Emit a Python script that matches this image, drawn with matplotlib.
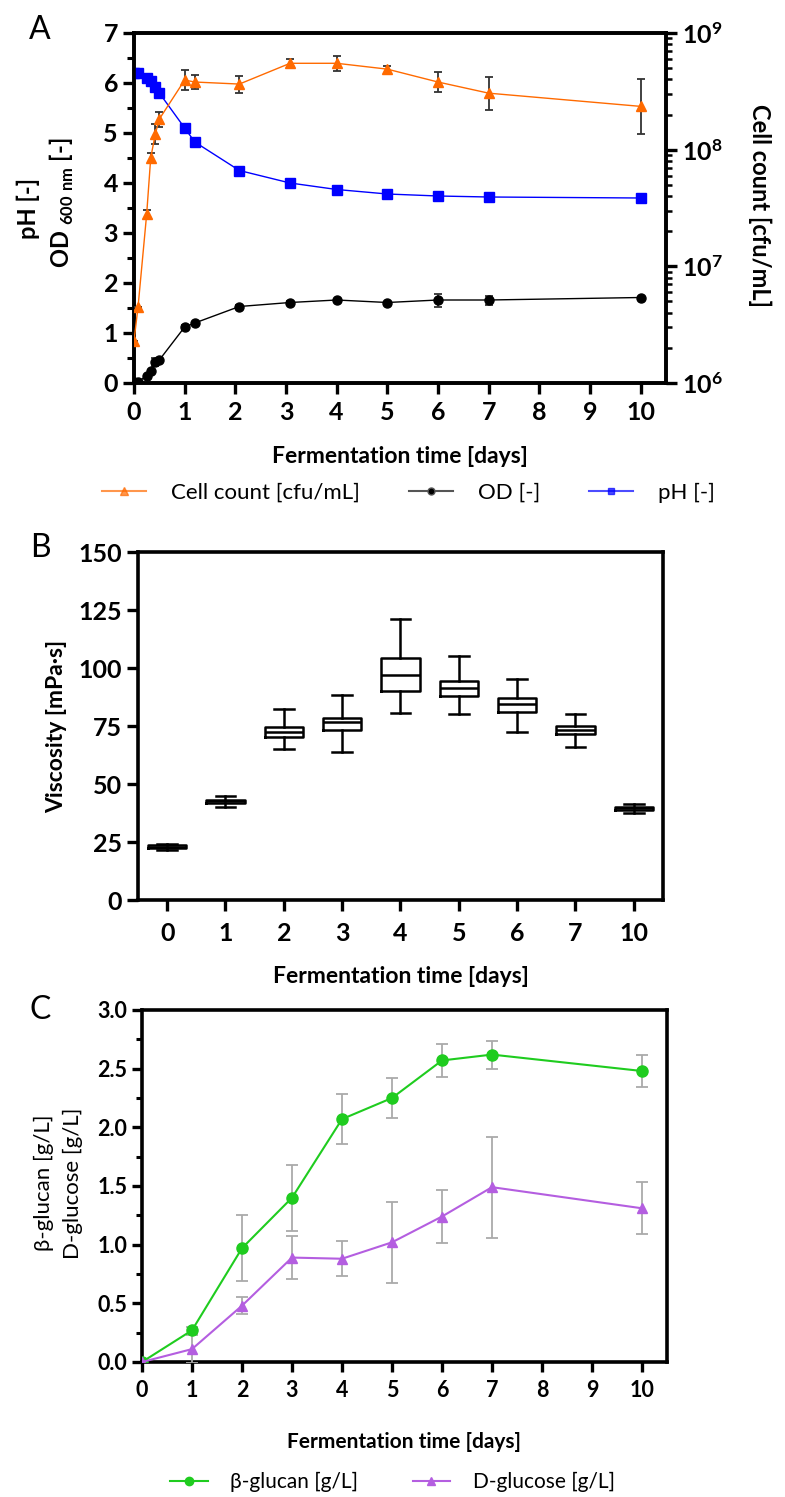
import numpy as np
import matplotlib
matplotlib.use("Agg")
import matplotlib.pyplot as plt
from matplotlib.lines import Line2D
from matplotlib.ticker import MultipleLocator, FuncFormatter, LogLocator, NullFormatter

plt.rcParams['font.family'] = ['Lato', 'DejaVu Sans']
plt.rcParams['mathtext.fontset'] = 'custom'
plt.rcParams['mathtext.rm'] = 'Lato'
plt.rcParams['mathtext.bf'] = 'Lato:bold'

# ---- panel A data ----
time_a = [0, 0.08, 0.25, 0.33, 0.42, 0.5, 1.0, 1.2, 2.08, 3.08, 4, 5, 6, 7, 10]
ph = [6.2, 6.2, 6.1, 6.04, 5.92, 5.8, 5.1, 4.82, 4.25, 4.0, 3.87, 3.78, 3.74, 3.72, 3.7]
od = [0.02, 0.03, 0.14, 0.24, 0.42, 0.46, 1.12, 1.2, 1.53, 1.61, 1.66, 1.61, 1.66, 1.66, 1.71]
od_err = [0, 0, 0.02, 0.03, 0.08, 0.04, 0.05, 0.03, 0.03, 0.03, 0.03, 0.02, 0.13, 0.09, 0.02]
cells = [2.3e6, 4.5e6, 2.8e7, 8.5e7, 1.36e8, 1.83e8, 3.95e8, 3.8e8, 3.65e8, 5.5e8, 5.5e8,
         4.9e8, 3.8e8, 3.05e8, 2.35e8]
cells_log_err = [0, 0, 0.034, 0.043, 0.086, 0.064, 0.086, 0.064, 0.073, 0.034, 0.064,
                 0.03, 0.086, 0.141, 0.236]

# ---- panel B data (viscosity boxes) ----
days_b = ['0', '1', '2', '3', '4', '5', '6', '7', '10']
visc_wlo = [21.6, 40.0, 65.1, 63.8, 80.6, 80.2, 72.4, 65.9, 37.5]
visc_q1 = [22.3, 41.8, 70.3, 73.3, 90.1, 87.9, 81.0, 71.5, 38.8]
visc_med = [23.0, 42.5, 72.4, 76.7, 97.0, 91.4, 84.5, 73.3, 39.6]
visc_q3 = [23.5, 43.3, 74.6, 78.4, 104.3, 94.4, 87.1, 75.0, 40.1]
visc_whi = [24.2, 44.8, 82.3, 88.4, 121.1, 105.2, 95.2, 80.2, 41.4]

# ---- panel C data ----
days_c = [0, 1, 2, 3, 4, 5, 6, 7, 10]
glucan = [0.0, 0.27, 0.97, 1.40, 2.07, 2.25, 2.57, 2.62, 2.48]
glucan_err = [0, 0.03, 0.28, 0.28, 0.21, 0.17, 0.14, 0.12, 0.14]
glucose = [0.0, 0.11, 0.48, 0.89, 0.88, 1.02, 1.24, 1.49, 1.31]
glucose_err = [0, 0.12, 0.07, 0.18, 0.15, 0.345, 0.23, 0.43, 0.22]

W, H = 785, 1497
fig = plt.figure(figsize=(W / 100, H / 100), dpi=100)


def box(l, r, t, b):
    return [l / W, 1 - b / H, (r - l) / W, (b - t) / H]


def style_spines(ax, lw=2.6):
    for s in ax.spines.values():
        s.set_linewidth(lw)


orange = '#ff6a00'
blue = '#0000ff'
green = '#1fcc1f'
purple = '#b45ee0'

# ================= A =================
ax = fig.add_axes(box(134, 666, 33, 383))
style_spines(ax)
ax.plot(time_a, ph, color=blue, lw=1.0, marker='s', ms=7, zorder=3)
ax.errorbar(time_a, od, yerr=od_err, color='black', lw=1.0, marker='o', ms=6.5,
            ecolor='#333333', elinewidth=1.3, capsize=3, capthick=1.3, zorder=3)
ax.set_xlim(0, 10.5)
ax.set_ylim(0, 7)
ax.xaxis.set_major_locator(MultipleLocator(1))
ax.yaxis.set_major_locator(MultipleLocator(1))
ax.yaxis.set_minor_locator(MultipleLocator(0.5))
ax.tick_params(axis='both', which='major', length=8, width=2.4, labelsize=18, direction='out')
ax.tick_params(axis='y', which='minor', length=5, width=2.2)
ax.tick_params(axis='x', pad=5)
for lab in ax.get_xticklabels() + ax.get_yticklabels():
    lab.set_fontweight('bold')
ax.set_xlabel('Fermentation time [days]', fontsize=16.5, fontweight='bold', labelpad=16)

ax2 = ax.twinx()
style_spines(ax2)
ax2.set_yscale('log')
ax2.set_ylim(1e6, 1e9)
c = np.array(cells)
e = np.array(cells_log_err)
ax2.errorbar(time_a, c, yerr=[c - c / 10 ** e, c * 10 ** e - c], color=orange, lw=1.0,
             marker='^', ms=6.5, ecolor='#333333', elinewidth=1.3, capsize=3,
             capthick=1.3, zorder=4)
ax2.yaxis.set_major_locator(LogLocator(base=10, numticks=10))
ax2.yaxis.set_minor_locator(LogLocator(base=10, subs=np.arange(2, 10), numticks=10))
ax2.yaxis.set_minor_formatter(NullFormatter())
ax2.yaxis.set_major_formatter(FuncFormatter(lambda v, p: r'$\mathbf{10^{%d}}$' % round(np.log10(v))))
ax2.tick_params(axis='y', which='major', length=8, width=2.4, labelsize=18)
ax2.tick_params(axis='y', which='minor', length=4.5, width=1.8)
ax2.set_xlim(0, 10.5)

fig.text(28 / W, 1 - 208 / H, 'pH [-]', rotation=90, ha='center', va='center',
         fontsize=17, fontweight='bold')
fig.text(62 / W, 1 - 203 / H, r'OD $_{\mathbf{600\ nm}}$ [-]', rotation=90, ha='center',
         va='center', fontsize=17, fontweight='bold')
fig.text(760 / W, 1 - 205 / H, 'Cell count [cfu/mL]', rotation=-90, ha='center',
         va='center', fontsize=17, fontweight='bold')
fig.text(40 / W, 1 - 30 / H, 'A', ha='center', va='center', fontsize=23)

hA = [Line2D([], [], color=orange, alpha=0.7, lw=1.5, marker='^', ms=6, markerfacecolor=orange),
      Line2D([], [], color='#555555', lw=1.5, marker='o', ms=5, markerfacecolor='black'),
      Line2D([], [], color=blue, alpha=0.7, lw=1.5, marker='s', ms=5, markerfacecolor=blue)]
fig.legend(hA, ['Cell count [cfu/mL]', 'OD [-]', 'pH [-]'], loc='center',
           bbox_to_anchor=(0.52, 1 - 493 / H), ncol=3, frameon=False, fontsize=16,
           handlelength=2.0, columnspacing=2.2, handletextpad=1.1)

# ================= B =================
bx = fig.add_axes(box(138, 663, 552, 900))
style_spines(bx)
stats = []
for i in range(len(days_b)):
    stats.append(dict(med=visc_med[i], q1=visc_q1[i], q3=visc_q3[i],
                      whislo=visc_wlo[i], whishi=visc_whi[i], fliers=[]))
bx.bxp(stats, positions=np.arange(len(days_b)), widths=0.66, showfliers=False,
       boxprops=dict(color='black', lw=1.8),
       medianprops=dict(color='black', lw=1.8),
       whiskerprops=dict(color='black', lw=1.8),
       capprops=dict(color='black', lw=1.8), capwidths=0.34)
bx.set_xlim(-0.5, 8.5)
bx.set_ylim(0, 150)
bx.set_xticks(np.arange(len(days_b)))
bx.set_xticklabels(days_b)
bx.yaxis.set_major_locator(MultipleLocator(25))
bx.tick_params(axis='both', which='major', length=8, width=2.4, labelsize=18)
bx.tick_params(axis='x', pad=8)
for lab in bx.get_xticklabels() + bx.get_yticklabels():
    lab.set_fontweight('bold')
bx.set_xlabel('Fermentation time [days]', fontsize=16.5, fontweight='bold', labelpad=15)
bx.set_ylabel('Viscosity [mPa·s]', fontsize=16.5, fontweight='bold', labelpad=8)
fig.text(40 / W, 1 - 548 / H, 'B', ha='center', va='center', fontsize=23)

# ================= C =================
cx = fig.add_axes(box(142, 667, 1010, 1362))
style_spines(cx)
cx.errorbar(days_c, glucan, yerr=glucan_err, color=green, lw=1.5, marker='o', ms=8,
            ecolor='#aaaaaa', elinewidth=1.3, capsize=4, capthick=1.3, zorder=3)
cx.errorbar(days_c, glucose, yerr=glucose_err, color=purple, lw=1.5, marker='^', ms=7.5,
            ecolor='#aaaaaa', elinewidth=1.3, capsize=4, capthick=1.3, zorder=3)
cx.set_xlim(0, 10.5)
cx.set_ylim(0, 3.0)
cx.xaxis.set_major_locator(MultipleLocator(1))
cx.yaxis.set_major_locator(MultipleLocator(0.5))
cx.yaxis.set_minor_locator(MultipleLocator(0.25))
cx.yaxis.set_major_formatter(FuncFormatter(lambda v, p: '%.1f' % v))
cx.tick_params(axis='both', which='major', length=7, width=2.4, labelsize=15.5)
cx.tick_params(axis='y', which='minor', length=4.5, width=2.2)
cx.tick_params(axis='x', pad=6)
for lab in cx.get_xticklabels() + cx.get_yticklabels():
    lab.set_fontweight('bold')
cx.set_xlabel('Fermentation time [days]', fontsize=15, fontweight='bold', labelpad=22)
fig.text(44 / W, 1 - 1183 / H, 'β-glucan [g/L]', rotation=90, ha='center', va='center',
         fontsize=16)
fig.text(73 / W, 1 - 1183 / H, 'D-glucose [g/L]', rotation=90, ha='center', va='center',
         fontsize=16)
fig.text(40 / W, 1 - 1010 / H, 'C', ha='center', va='center', fontsize=23)

hC = [Line2D([], [], color=green, lw=1.5, marker='o', ms=6),
      Line2D([], [], color=purple, lw=1.5, marker='^', ms=6)]
fig.legend(hC, ['β-glucan [g/L]', 'D-glucose [g/L]'], loc='center',
           bbox_to_anchor=(0.5, 1 - 1482 / H), ncol=2, frameon=False, fontsize=15,
           handlelength=1.8, columnspacing=2.6, handletextpad=1.1)

fig.savefig('out.png', dpi=100)
